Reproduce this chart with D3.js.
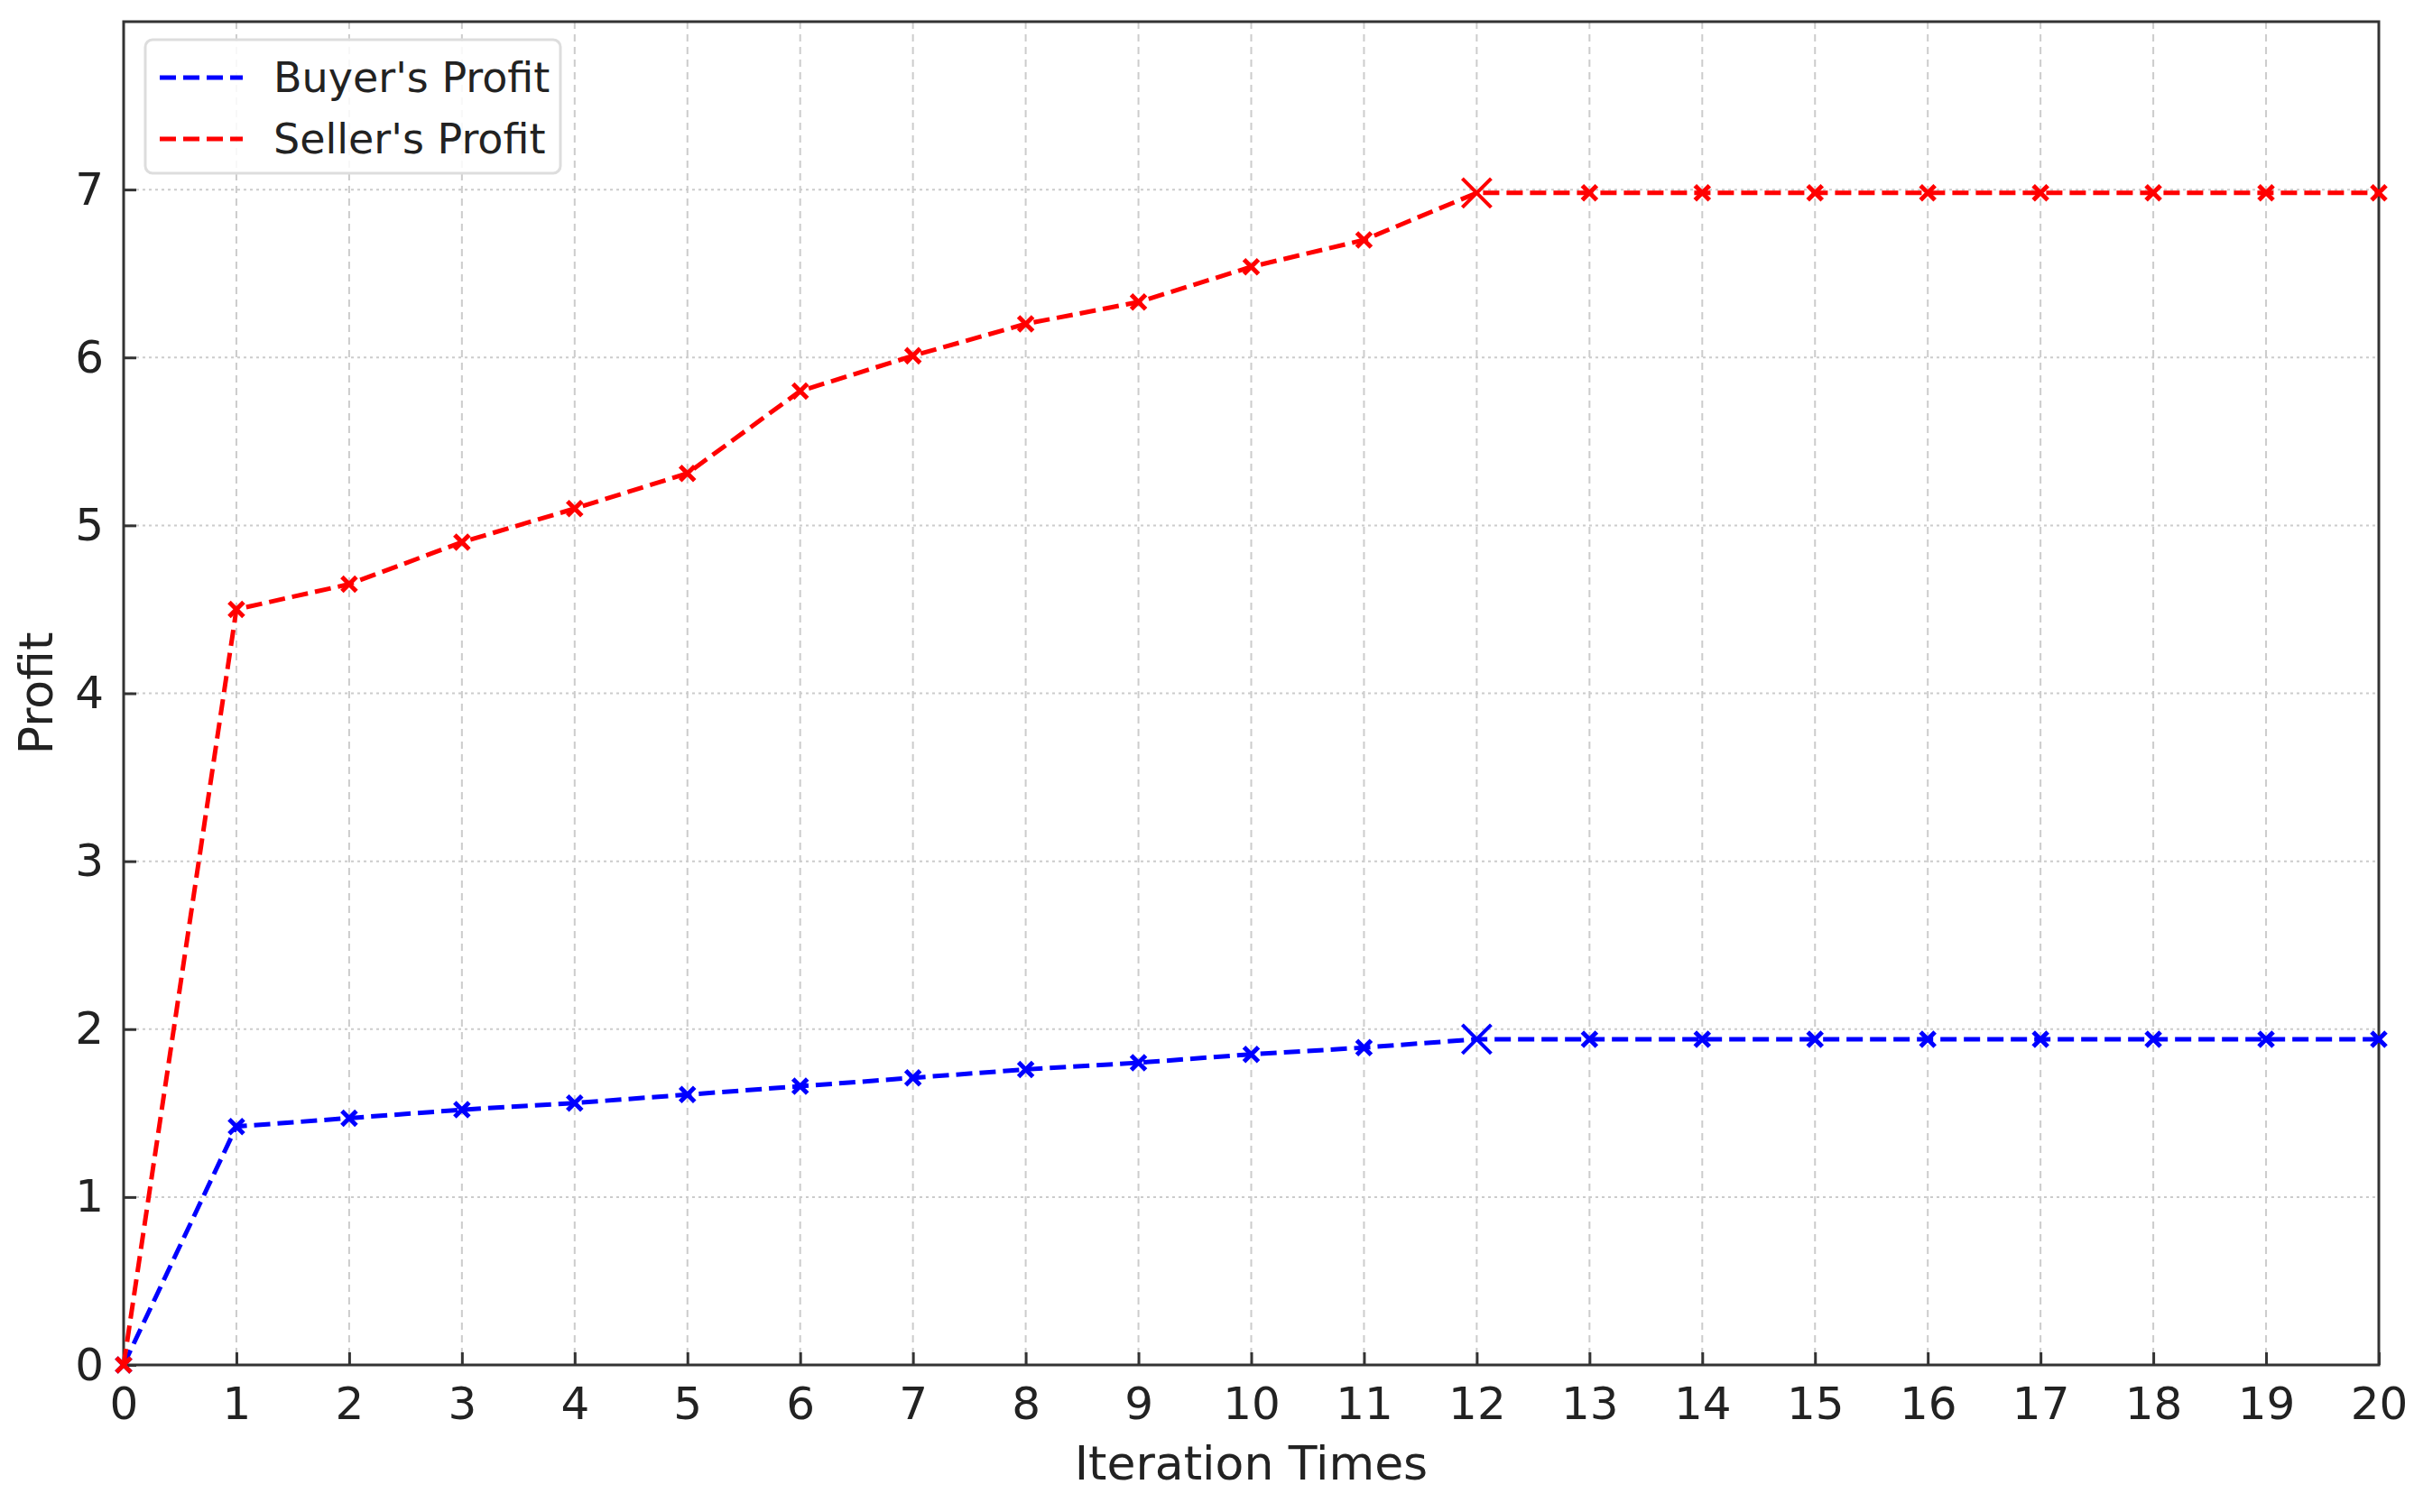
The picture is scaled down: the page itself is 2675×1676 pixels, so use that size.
<!DOCTYPE html>
<html>
<head>
<meta charset="utf-8">
<script src="https://cdn.jsdelivr.net/npm/d3@7"></script>
<style>
  body { margin: 0; background: #fff; }
  text { font-family: "DejaVu Sans", sans-serif; fill: #222; }
</style>
</head>
<body>
<svg id="chart" width="2675" height="1676"></svg>
<script>
const iterations = d3.range(0, 21);
const buyerProfit = [0, 1.42, 1.47, 1.52, 1.56, 1.61, 1.66, 1.71, 1.76, 1.80, 1.85, 1.89, 1.94,
  1.94, 1.94, 1.94, 1.94, 1.94, 1.94, 1.94, 1.94];
const sellerProfit = [0, 4.50, 4.65, 4.90, 5.10, 5.31, 5.80, 6.01, 6.20, 6.33, 6.54, 6.70, 6.98,
  6.98, 6.98, 6.98, 6.98, 6.98, 6.98, 6.98, 6.98];
const yTicks = [0, 1, 2, 3, 4, 5, 6, 7];
const seriesNames = ["Buyer's Profit", "Seller's Profit"];
const seriesColors = ["#0000ff", "#ff0000"];
const highlightIndex = 12;

const svg = d3.select('#chart');
const margin = { top: 24, right: 39, bottom: 163, left: 137 };
const width = 2675 - margin.left - margin.right;
const height = 1676 - margin.top - margin.bottom;

const x = d3.scaleLinear().domain([0, 20]).range([0, width]);
const y = d3.scaleLinear().domain([0, 8]).range([height, 0]);

const g = svg.append('g').attr('transform', `translate(${margin.left},${margin.top})`);

// Grid
g.selectAll('.vgrid').data(iterations).enter().append('line')
  .attr('x1', d => x(d)).attr('x2', d => x(d)).attr('y1', 0).attr('y2', height)
  .attr('stroke', '#ccc').attr('stroke-width', 2).attr('stroke-dasharray', '8,6');
g.selectAll('.hgrid').data(yTicks).enter().append('line')
  .attr('x1', 0).attr('x2', width).attr('y1', d => y(d)).attr('y2', d => y(d))
  .attr('stroke', '#ccc').attr('stroke-width', 2).attr('stroke-dasharray', '3,4');

// Axes, ticks inward
const xAxis = g.append('g').attr('transform', `translate(0,${height})`)
  .call(d3.axisBottom(x).tickValues(iterations).tickSize(-14).tickPadding(24).tickFormat(d3.format('d')));
const yAxis = g.append('g')
  .call(d3.axisLeft(y).tickValues(yTicks).tickSize(-14).tickPadding(22).tickFormat(d3.format('d')));
[xAxis, yAxis].forEach(a => {
  a.select('.domain').remove();
  a.selectAll('line').attr('stroke', '#333').attr('stroke-width', 3);
  a.selectAll('text').attr('font-size', 50).attr('fill', '#222');
});

// Frame
g.append('rect').attr('width', width).attr('height', height)
  .attr('fill', 'none').attr('stroke', '#333').attr('stroke-width', 3);

// Lines
const line = d3.line().x((d, i) => x(iterations[i])).y(d => y(d));
[buyerProfit, sellerProfit].forEach((vals, k) => {
  g.append('path').datum(vals).attr('d', line)
    .attr('fill', 'none').attr('stroke', seriesColors[k])
    .attr('stroke-width', 5).attr('stroke-dasharray', '18,8');
  g.selectAll('.mk' + k).data(vals).enter().append('path')
    .attr('transform', (d, i) => `translate(${x(iterations[i])},${y(d)})`)
    .attr('d', (d, i) => { const s = i === highlightIndex ? 16 : 8; return `M${-s},${-s}L${s},${s}M${-s},${s}L${s},${-s}`; })
    .attr('stroke', seriesColors[k]).attr('stroke-width', (d, i) => i === highlightIndex ? 4 : 5)
    .attr('fill', 'none');
});

// Axis labels
svg.append('text').attr('x', margin.left + width / 2).attr('y', 1640)
  .attr('text-anchor', 'middle').attr('font-size', 52).text('Iteration Times');
svg.append('text').attr('transform', `translate(58,${margin.top + height / 2}) rotate(-90)`)
  .attr('text-anchor', 'middle').attr('font-size', 52).text('Profit');

// Legend
const lg = g.append('g').attr('transform', 'translate(24,20)');
lg.append('rect').attr('width', 460).attr('height', 148).attr('rx', 8)
  .attr('fill', '#fff').attr('fill-opacity', 0.85).attr('stroke', '#ddd').attr('stroke-width', 3);
seriesNames.forEach((name, k) => {
  const yy = 42 + k * 68;
  lg.append('line').attr('x1', 16).attr('x2', 108).attr('y1', yy).attr('y2', yy)
    .attr('stroke', seriesColors[k]).attr('stroke-width', 5).attr('stroke-dasharray', '18,8');
  lg.append('text').attr('x', 142).attr('y', yy).attr('dy', '0.35em')
    .attr('font-size', 46).attr('fill', '#444').text(name);
});
</script>
</body>
</html>
